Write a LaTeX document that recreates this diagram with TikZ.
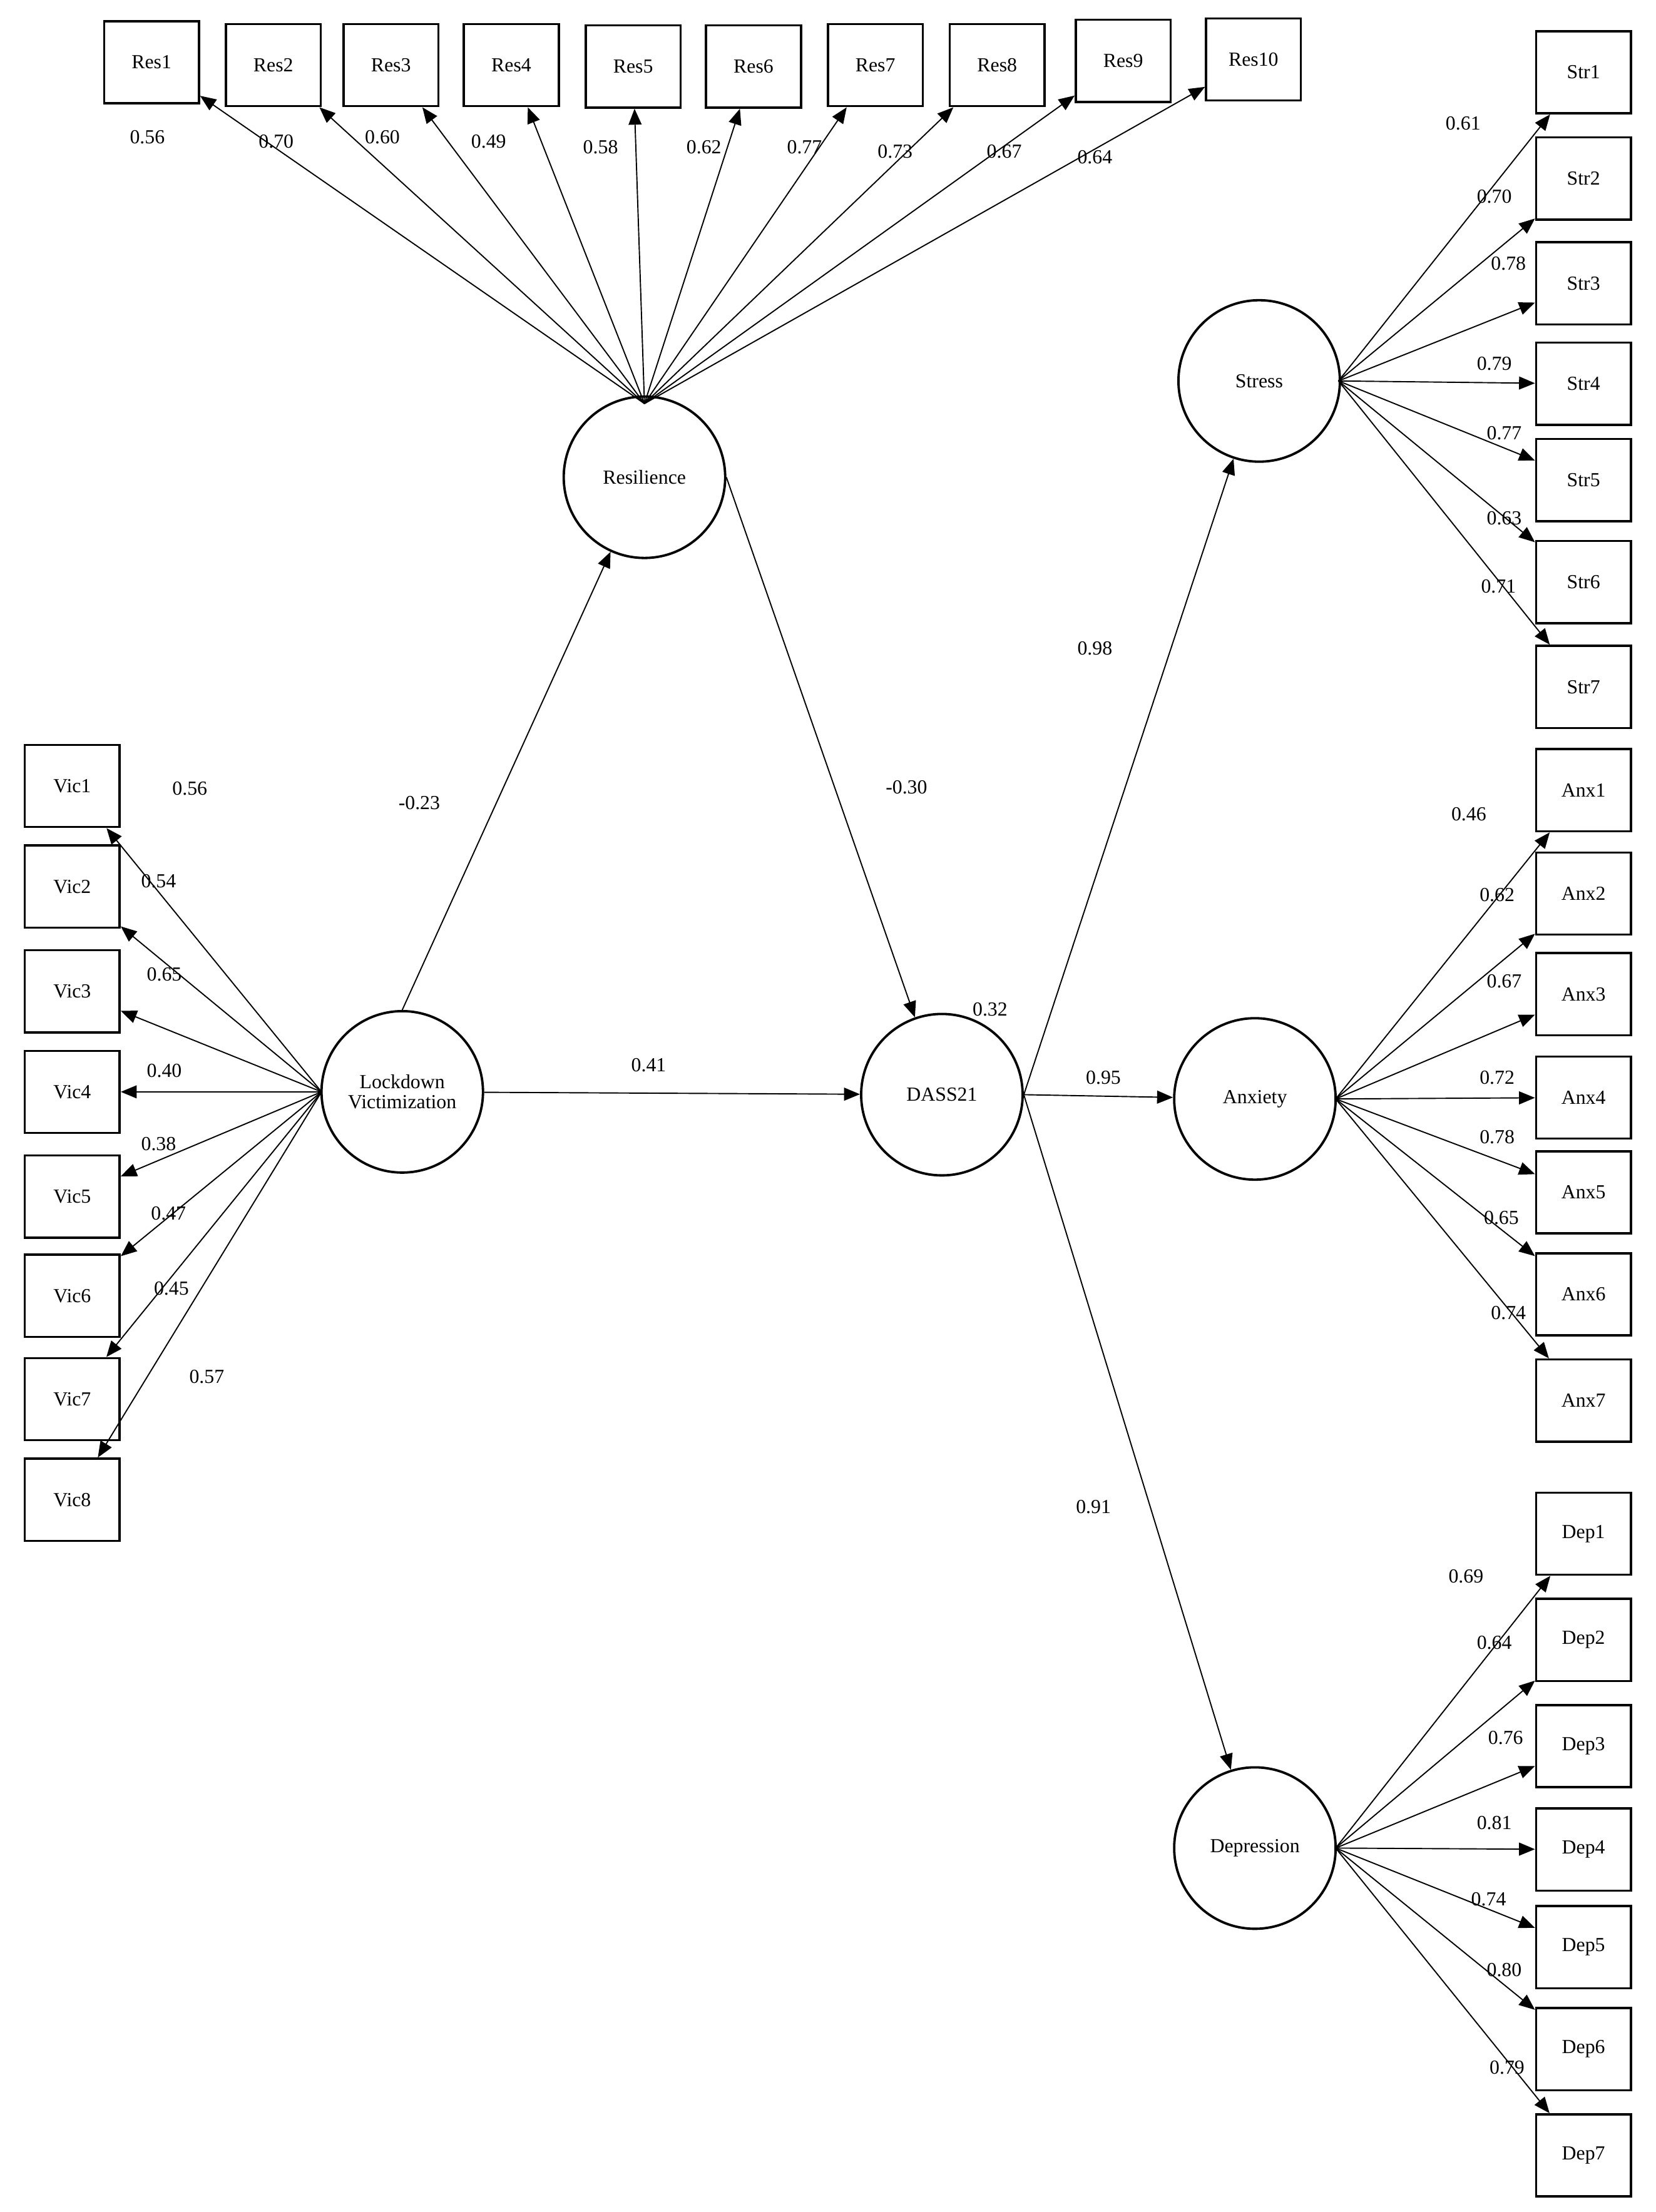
\documentclass[tikz,border=0pt]{standalone}
\usepackage{fontspec}
\setmainfont{Liberation Serif}
\usetikzlibrary{arrows.meta}
\begin{document}
\begin{tikzpicture}[x=0.05cm,y=-0.05cm,
  font=\fontsize{20}{24}\selectfont,
  box/.style={draw,line width=2.2pt,minimum width=3.35cm,minimum height=2.9cm,inner sep=0pt},
  lat/.style={draw,circle,line width=2.4pt,minimum size=5.7cm,inner sep=0pt,align=center},
  arr/.style={-{Triangle[length=16pt,width=13pt]},line width=1.2pt},
  lab/.style={inner sep=0pt}]
\useasboundingbox (0,0) rectangle (1169,1562);
% latent
\node[lat] (res) at (455,337) {Resilience};
\node[lat] (lv) at (284,771) {Lockdown\\[-4pt]Victimization};
\node[lat] (dass) at (665,773) {DASS21};
\node[lat] (str) at (889,269) {Stress};
\node[lat] (anx) at (886,776) {Anxiety};
\node[lat] (dep) at (886,1305) {Depression};
\coordinate (resT) at (455,285);
\coordinate (lvW) at (227,771);
\coordinate (strE) at (945,269);
\coordinate (anxE) at (943,776);
\coordinate (depE) at (943,1305);
% Res items
\foreach \i/\x/\y/\l/\lx/\ly in {1/107/44/0.56/104/97,2/193/46/0.70/195/100,3/276/46/0.60/270/97,4/361/46/0.49/345/100,5/447/47/0.58/424/104,6/532/47/0.62/497/104,7/618/46/0.77/568/104,8/704/46/0.73/632/107,9/793/43/0.67/709/107,10/885/42/0.64/773/111}{
  \node[box] (r\i) at (\x,\y) {Res\i};
  \draw[arr] (resT) -- (r\i);
  \node[lab] at (\lx,\ly) {\l};}
% Vic items
\foreach \i/\y/\l/\lx/\ly in {1/555/0.56/134/557,2/626/0.54/112/622,3/700/0.65/116/688,4/771/0.40/116/756,5/845/0.38/112/808,6/915/0.47/119/857,7/988/0.45/121/910,8/1059/0.57/146/972}{
  \node[box] (v\i) at (51,\y) {Vic\i};
  \draw[arr] (lvW) -- (v\i);
  \node[lab] at (\lx,\ly) {\l};}
% Stress items
\foreach \i/\y/\l/\lx/\ly in {1/51/0.61/1033/87,2/126/0.70/1055/139,3/200/0.78/1065/186,4/271/0.79/1055/257,5/339/0.77/1062/306,6/411/0.63/1062/366,7/485/0.71/1058/414}{
  \node[box] (s\i) at (1118,\y) {Str\i};
  \draw[arr] (strE) -- (s\i);
  \node[lab] at (\lx,\ly) {\l};}
% Anxiety items
\foreach \i/\y/\l/\lx/\ly in {1/558/0.46/1037/575,2/631/0.62/1057/632,3/702/0.67/1062/693,4/775/0.72/1057/761,5/842/0.78/1057/803,6/914/0.65/1060/860,7/989/0.74/1065/927}{
  \node[box] (a\i) at (1118,\y) {Anx\i};
  \draw[arr] (anxE) -- (a\i);
  \node[lab] at (\lx,\ly) {\l};}
% Depression items
\foreach \i/\y/\l/\lx/\ly in {1/1083/0.69/1035/1113,2/1158/0.64/1055/1160,3/1233/0.76/1063/1227,4/1306/0.81/1055/1287,5/1375/0.74/1051/1341,6/1447/0.80/1062/1391,7/1522/0.79/1064/1460}{
  \node[box] (d\i) at (1118,\y) {Dep\i};
  \draw[arr] (depE) -- (d\i);
  \node[lab] at (\lx,\ly) {\l};}
% structural
\draw[arr] (lv.north) -- (res);
\draw[arr] (res.east) -- (dass);
\draw[arr] (lv) -- (dass);
\draw[arr] (dass.east) -- (str);
\draw[arr] (dass.east) -- (anx);
\draw[arr] (dass.east) -- (dep);
\node[lab] at (296,567) {-0.23};
\node[lab] at (640,556) {-0.30};
\node[lab] at (458,752) {0.41};
\node[lab] at (699,713) {0.32};
\node[lab] at (773,458) {0.98};
\node[lab] at (779,761) {0.95};
\node[lab] at (772,1064) {0.91};
\end{tikzpicture}
\end{document}
